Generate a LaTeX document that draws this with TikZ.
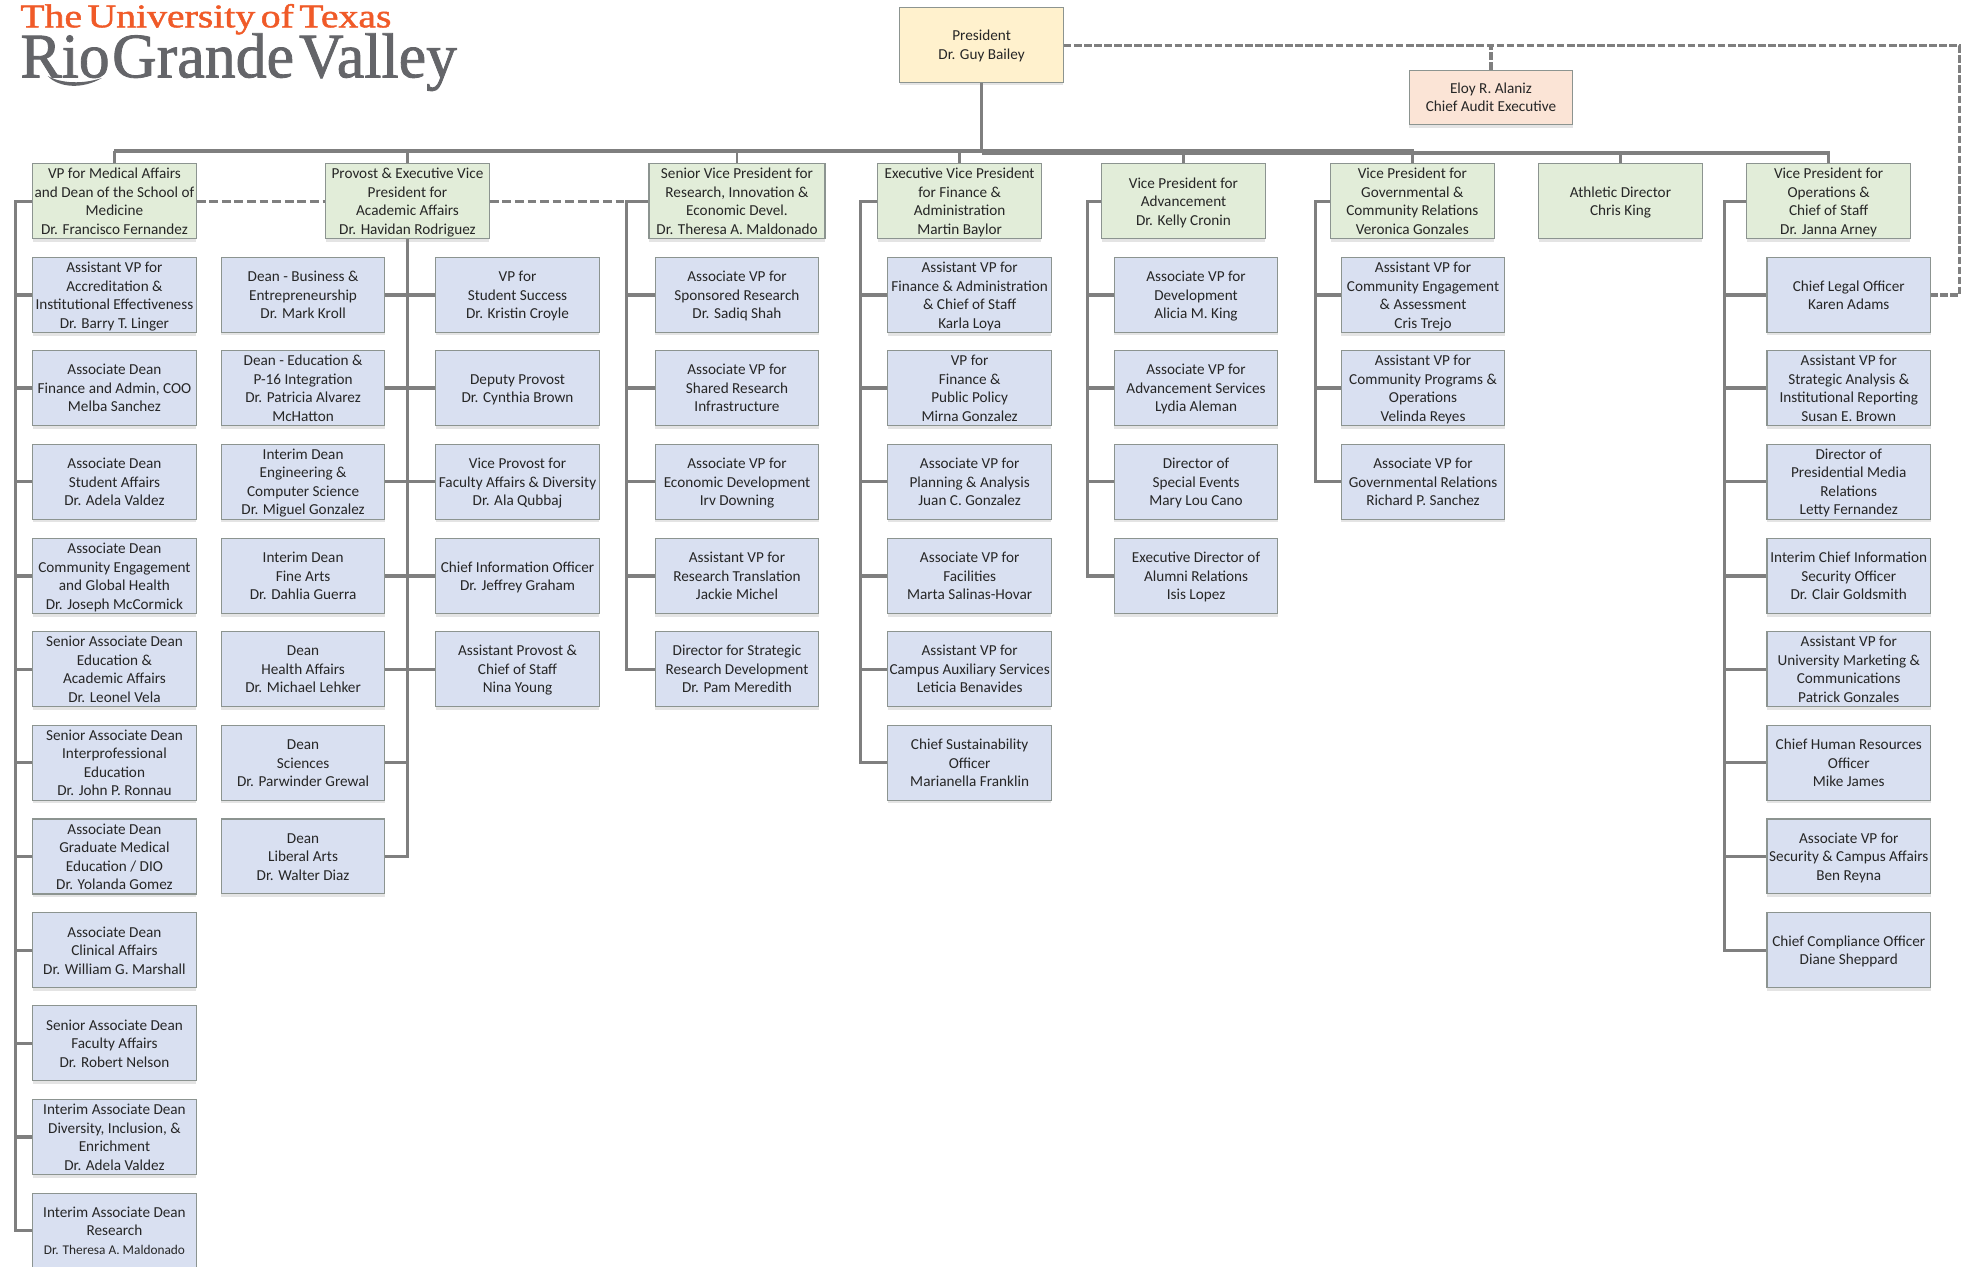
\documentclass[tikz,border=0pt]{standalone}
\usepackage{fontspec}
\setmainfont{Carlito}
\newfontfamily\logofont[FakeBold=1.3]{Liberation Serif}
\usetikzlibrary{shadows}
\definecolor{greenfill}{HTML}{E2EDD9}
\definecolor{bluefill}{HTML}{D9E0F1}
\definecolor{yellowfill}{HTML}{FFF1CD}
\definecolor{peachfill}{HTML}{FBE4D6}
\definecolor{edgegray}{HTML}{8C9490}
\definecolor{linegray}{HTML}{7F7F7F}
\definecolor{logoorange}{HTML}{F05A28}
\definecolor{logogray}{HTML}{646569}
\tikzset{
  x=1pt,y=-1pt,
  card/.style={draw=edgegray,line width=.9pt,align=center,inner sep=0pt,minimum width=130,minimum height=59.5,
    font=\fontsize{12.1}{14.7}\selectfont,text=black!85,
    drop shadow={shadow xshift=0pt,shadow yshift=-2.5pt,fill=black!35,opacity=.3}},
  bluecard/.style={card,fill=bluefill},
  greencard/.style={card,fill=greenfill},
  topcard/.style={card,fill=yellowfill},
  peachcard/.style={card,fill=peachfill,minimum height=43},
  conn/.style={draw=linegray,line width=2.5pt},
  thinconn/.style={draw=linegray,line width=1.9pt},
  bus/.style={draw=linegray,line width=3pt},
  dashconn/.style={draw=linegray,line width=2.4pt,dash pattern=on 7pt off 3pt},
  finedash/.style={draw=linegray,line width=2.5pt,dash pattern=on 6pt off 2pt},
}
\newcommand{\rowy}[1]{\ifcase#1\or234.5\or308.5\or383\or458\or532\or606.5\or681\or755.5\or829.5\or904\or978.5\fi}
\newcommand{\txt}[1]{\rule{0pt}{12pt}#1\rule[-3.5pt]{0pt}{0pt}}
\newcommand{\bc}[4]{\node[bluecard] (#1) at (#2,\rowy{#3}) {\txt{#4}};}
\newcommand{\gc}[3]{\node[greencard] (#1) at (#2,160) {\txt{#3}};}
\begin{document}
\begin{tikzpicture}
\useasboundingbox (0,0) rectangle (1568,1007.4);
% logo
\node[anchor=base west,inner sep=0pt,text=logoorange] (logotop) at (16,21.7)
  {\resizebox{295pt}{18.5pt}{\logofont The\hspace{.14em}University\hspace{.14em}of\hspace{.14em}Texas}};
\node[anchor=base west,inner sep=0pt,text=logogray] (logobottom) at (16,61.5)
  {\resizebox{347pt}{35pt}{\logofont Rio\hspace{.04em}Grande\hspace{.08em}Valley}};
\fill[logogray] (38,60.5) .. controls (47,70) and (66,71) .. (81,62) .. controls (66,67) and (49,66.5) .. cycle;
% top nodes
\node[topcard] (pres) at (780.5,35.5) {\txt{President\\Dr. Guy Bailey}};
\node[peachcard] (audit) at (1185.5,77.5) {Eloy R. Alaniz\\Chief Audit Executive};
% green heads
\gc{g1}{91}{VP for Medical Affairs\\and Dean of the School of\\Medicine\\Dr. Francisco Fernandez}
\gc{g2}{324}{Provost \& Executive Vice\\President for\\Academic Affairs\\Dr. Havidan Rodriguez}
\node[greencard,minimum width=140] (g3) at (586,160) {\txt{Senior Vice President for\\Research, Innovation \&\\Economic Devel.\\Dr. Theresa A. Maldonado}};
\gc{g4}{763}{Executive Vice President\\for Finance \&\\Administration\\Martin Baylor}
\gc{g5}{941}{Vice President for\\Advancement\\Dr. Kelly Cronin}
\gc{g6}{1123}{Vice President for\\Governmental \&\\Community Relations\\Veronica Gonzales}
\gc{g7}{1288.5}{Athletic Director\\Chris King}
\gc{g8}{1454}{Vice President for\\Operations \&\\Chief of Staff\\Dr. Janna Arney}
% column A
\bc{a1}{91}{1}{Assistant VP for\\Accreditation \&\\Institutional Effectiveness\\Dr. Barry T. Linger}
\bc{a2}{91}{2}{Associate Dean\\Finance and Admin, COO\\Melba Sanchez}
\bc{a3}{91}{3}{Associate Dean\\Student Affairs\\Dr. Adela Valdez}
\bc{a4}{91}{4}{Associate Dean\\Community Engagement\\and Global Health\\Dr. Joseph McCormick}
\bc{a5}{91}{5}{Senior Associate Dean\\Education \&\\Academic Affairs\\Dr. Leonel Vela}
\bc{a6}{91}{6}{Senior Associate Dean\\Interprofessional\\Education\\Dr. John P. Ronnau}
\bc{a7}{91}{7}{Associate Dean\\Graduate Medical\\Education / DIO\\Dr. Yolanda Gomez}
\bc{a8}{91}{8}{Associate Dean\\Clinical Affairs\\Dr. William G. Marshall}
\bc{a9}{91}{9}{Senior Associate Dean\\Faculty Affairs\\Dr. Robert Nelson}
\bc{a10}{91}{10}{Interim Associate Dean\\Diversity, Inclusion, \&\\Enrichment\\Dr. Adela Valdez}
\bc{a11}{91}{11}{Interim Associate Dean\\Research\\{\fontsize{10.6}{14.7}\selectfont Dr. Theresa A. Maldonado}}
% column B
\bc{b1}{241}{1}{Dean - Business \&\\Entrepreneurship\\Dr. Mark Kroll}
\bc{b2}{241}{2}{Dean - Education \&\\P-16 Integration\\Dr. Patricia Alvarez\\McHatton}
\bc{b3}{241}{3}{Interim Dean\\Engineering \&\\Computer Science\\Dr. Miguel Gonzalez}
\bc{b4}{241}{4}{Interim Dean\\Fine Arts\\Dr. Dahlia Guerra}
\bc{b5}{241}{5}{Dean\\Health Affairs\\Dr. Michael Lehker}
\bc{b6}{241}{6}{Dean\\Sciences\\Dr. Parwinder Grewal}
\bc{b7}{241}{7}{Dean\\Liberal Arts\\Dr. Walter Diaz}
% column C
\bc{c1}{411.5}{1}{VP for\\Student Success\\Dr. Kristin Croyle}
\bc{c2}{411.5}{2}{Deputy Provost\\Dr. Cynthia Brown}
\bc{c3}{411.5}{3}{Vice Provost for\\Faculty Affairs \& Diversity\\Dr. Ala Qubbaj}
\bc{c4}{411.5}{4}{Chief Information Officer\\Dr. Jeffrey Graham}
\bc{c5}{411.5}{5}{Assistant Provost \&\\Chief of Staff\\Nina Young}
% column D
\bc{d1}{586}{1}{Associate VP for\\Sponsored Research\\Dr. Sadiq Shah}
\bc{d2}{586}{2}{Associate VP for\\Shared Research\\Infrastructure}
\bc{d3}{586}{3}{Associate VP for\\Economic Development\\Irv Downing}
\bc{d4}{586}{4}{Assistant VP for\\Research Translation\\Jackie Michel}
\bc{d5}{586}{5}{Director for Strategic\\Research Development\\Dr. Pam Meredith}
% column E
\bc{e1}{771}{1}{Assistant VP for\\Finance \& Administration\\\& Chief of Staff\\Karla Loya}
\bc{e2}{771}{2}{VP for\\Finance \&\\Public Policy\\Mirna Gonzalez}
\bc{e3}{771}{3}{Associate VP for\\Planning \& Analysis\\Juan C. Gonzalez}
\bc{e4}{771}{4}{Associate VP for\\Facilities\\Marta Salinas-Hovar}
\bc{e5}{771}{5}{Assistant VP for\\Campus Auxiliary Services\\Leticia Benavides}
\bc{e6}{771}{6}{Chief Sustainability\\Officer\\Marianella Franklin}
% column F
\bc{f1}{951}{1}{Associate VP for\\Development\\Alicia M. King}
\bc{f2}{951}{2}{Associate VP for\\Advancement Services\\Lydia Aleman}
\bc{f3}{951}{3}{Director of\\Special Events\\Mary Lou Cano}
\bc{f4}{951}{4}{Executive Director of\\Alumni Relations\\Isis Lopez}
% column G
\bc{k1}{1131.5}{1}{Assistant VP for\\Community Engagement\\\& Assessment\\Cris Trejo}
\bc{k2}{1131.5}{2}{Assistant VP for\\Community Programs \&\\Operations\\Velinda Reyes}
\bc{k3}{1131.5}{3}{Associate VP for\\Governmental Relations\\Richard P. Sanchez}
% column H
\bc{h1}{1470}{1}{Chief Legal Officer\\Karen Adams}
\bc{h2}{1470}{2}{Assistant VP for\\Strategic Analysis \&\\Institutional Reporting\\Susan E. Brown}
\bc{h3}{1470}{3}{Director of\\Presidential Media\\Relations\\Letty Fernandez}
\bc{h4}{1470}{4}{Interim Chief Information\\Security Officer\\Dr. Clair Goldsmith}
\bc{h5}{1470}{5}{Assistant VP for\\University Marketing \&\\Communications\\Patrick Gonzales}
\bc{h6}{1470}{6}{Chief Human Resources\\Officer\\Mike James}
\bc{h7}{1470}{7}{Associate VP for\\Security \& Campus Affairs\\Ben Reyna}
\bc{h8}{1470}{8}{Chief Compliance Officer\\Diane Sheppard}
% bus
\coordinate (busleft) at (90,120);
\coordinate (busright) at (1455,121.5);
\coordinate (busmid) at (1124,120);
\coordinate (dashcorner) at (1558,36);
\draw[conn] (pres.south) -- (pres.south |- busmid);
\draw[bus] (g1.north |- busleft) -- (busmid);
\draw[bus] (pres.south |- busright) -- (g8.north |- busright);
\foreach \g in {g1,g2,g3,g4,g5,g6,g7,g8}
  \draw[thinconn] (\g.north) -- (\g.north |- busmid);
% spines
\coordinate (spa) at (12,160);
\coordinate (spd) at (498,160);
\coordinate (spe) at (684,160);
\coordinate (spf) at (865,160);
\coordinate (spg) at (1046,160);
\coordinate (sph) at (1371,160);
\draw[conn] (g1.west) -- (spa) |- (a11.west);
\foreach \n in {a1,a2,a3,a4,a5,a6,a7,a8,a9,a10} \draw[conn] (\n.west) -- (\n.west -| spa);
\draw[conn] (g2.south) |- (b7.east);
\foreach \n in {b1,b2,b3,b4,b5,b6} \draw[conn] (\n.east) -- (\n.east -| g2.south);
\foreach \n in {c1,c2,c3,c4,c5} \draw[conn] (\n.west) -- (\n.west -| g2.south);
\draw[conn] (g3.west) -- (spd) |- (d5.west);
\foreach \n in {d1,d2,d3,d4} \draw[conn] (\n.west) -- (\n.west -| spd);
\draw[conn] (g4.west) -- (spe) |- (e6.west);
\foreach \n in {e1,e2,e3,e4,e5} \draw[conn] (\n.west) -- (\n.west -| spe);
\draw[conn] (g5.west) -- (spf) |- (f4.west);
\foreach \n in {f1,f2,f3} \draw[conn] (\n.west) -- (\n.west -| spf);
\draw[conn] (g6.west) -- (spg) |- (k3.west);
\foreach \n in {k1,k2} \draw[conn] (\n.west) -- (\n.west -| spg);
\draw[conn] (g8.west) -- (sph) |- (h8.west);
\foreach \n in {h1,h2,h3,h4,h5,h6,h7} \draw[conn] (\n.west) -- (\n.west -| sph);
% dashed links
\draw[dashconn] (g1.east) -- (g2.west);
\draw[dashconn] (g2.east) -- (spd);
\draw[finedash] (pres.east |- dashcorner) -- (dashcorner) -- (dashcorner |- h1.east) -- (h1.east);
\draw[finedash] (audit.north) -- (audit.north |- dashcorner);
\end{tikzpicture}
\end{document}
